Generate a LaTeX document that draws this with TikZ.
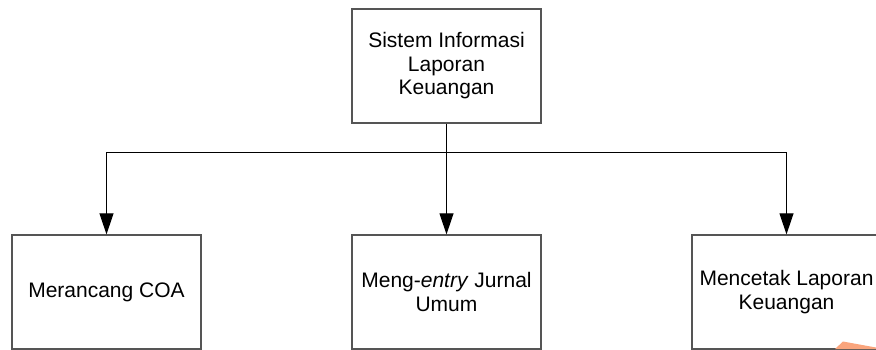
\documentclass[tikz,border=0pt]{standalone}
\usepackage{fontspec}
\setmainfont{Liberation Sans}
\usetikzlibrary{arrows.meta}
\definecolor{boxline}{RGB}{85,85,85}
\definecolor{salmon}{RGB}{250,165,125}
\begin{document}
\begin{tikzpicture}[x=1pt,y=1pt,
  procbox/.style={draw=boxline, line width=1.3pt, fill=white,
    minimum width=189pt, minimum height=114pt, inner sep=0pt,
    align=center, font=\fontsize{21}{23.5}\selectfont},
  link/.style={draw=black, line width=1pt},
  flow/.style={link, -{Triangle[length=21pt,width=14pt]}}]
\useasboundingbox (0,0) rectangle (876,-349);

% top-level system
\node[procbox] (sys) at (446.5,-66) {Sistem Informasi\\Laporan\\Keuangan};

% sub-processes
\node[procbox] (coa)   at (106.5,-292) {Merancang COA};
\node[procbox] (jurnal) at (446.5,-292) {Meng-\textit{entry} Jurnal\\Umum};
\node[procbox] (cetak) at (786.5,-292) {Mencetak Laporan\\Keuangan};

% branching connectors
\coordinate (hub) at (446.5,-152);
\draw[link] (sys.south) -- (hub);
\draw[flow] (hub) -| (coa.north);
\draw[flow] (hub) -- (jurnal.north);
\draw[flow] (hub) -| (cetak.north);

% corner mark
\fill[salmon] (835,-349) -- (843,-341.5) -- (876,-347.5) -- (876,-349) -- cycle;
\end{tikzpicture}
\end{document}
